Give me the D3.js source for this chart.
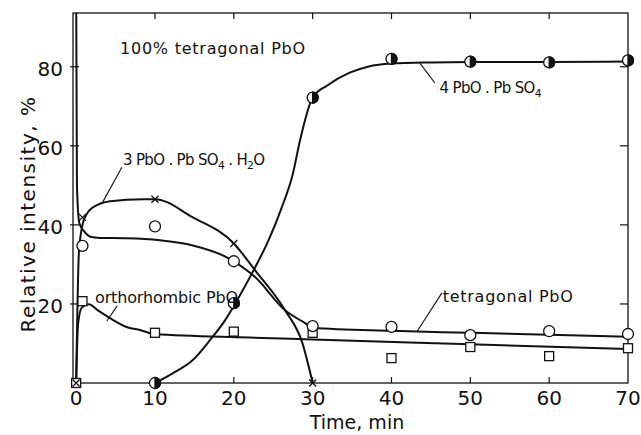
<!DOCTYPE html>
<html>
<head>
<meta charset="utf-8">
<title>Relative intensity vs time</title>
<script src="https://cdnjs.cloudflare.com/ajax/libs/d3/7.8.5/d3.min.js"></script>
<style>
body{
margin:0;
background:#fff
}
svg{
display:block
}
text{
font-family:"DejaVu Sans", sans-serif;
fill:#111
}
</style>
</head>
<body>
<svg width="641" height="435"></svg>

<script>

// marker values
var timeTet = [0.8, 10, 20, 30, 40, 50, 60, 70]
var tetragonal = [34.7, 39.6, 30.8, 14.4, 14.2, 12.1, 13.1, 12.4]
var timeBasic3 = [0, 0.8, 10, 20, 30]
var basic3 = [0, 41.9, 46.5, 35.3, 0]
var timeOrtho = [0, 0.8, 10, 20, 30, 40, 50, 60, 70]
var ortho = [0, 20.7, 12.7, 13.0, 12.7, 6.3, 9.1, 6.8, 8.8]
var timeBasic4 = [10, 20, 30, 40, 50, 60, 70]
var basic4 = [0, 20.2, 72.2, 82.0, 81.3, 81.1, 81.6]

// hand drawn curves
var tetCurveT = [0, 0.1, 0.4, 1.0, 1.8, 3, 6.4, 10.6, 14.8, 19.1, 22.7, 26.5, 29, 30, 40, 50, 60, 70]
var tetCurveV = [100, 50, 40.5, 38.4, 37.0, 36.7, 36.6, 36.1, 34.8, 31.8, 26.8, 18.4, 15.2, 14.0, 13.2, 12.7, 12.2, 11.7]
var b3CurveT = [0, 0.35, 0.85, 1.3, 2.1, 4.3, 8.5, 10, 14.8, 20, 22.7, 26.5, 28.7, 30]
var b3CurveV = [0, 33, 40.4, 42.6, 44.4, 46.0, 46.5, 46.5, 41.9, 35.3, 28.5, 18.4, 10.1, 0]
var orCurveT = [0, 0.1, 0.25, 0.7, 1.6, 2.8, 4.3, 6.5, 8.1, 10, 22, 30, 50, 70]
var orCurveV = [0, 8, 15, 19, 19.9, 18.3, 16.4, 14.1, 13.4, 12.4, 11.5, 11.0, 9.8, 8.6]
var b4CurveT = [10, 12.3, 14.8, 17, 18.9, 20.2, 22.5, 24.4, 26, 27.5, 28.4, 30, 31.8, 34.7, 37, 40, 45, 50, 60, 70]
var b4CurveV = [0, 2.5, 5.8, 10.9, 15.9, 20.2, 28.5, 36.1, 44, 53, 61.4, 72.2, 75.2, 78.5, 80, 80.8, 81.1, 81.2, 81.2, 81.3]

var xTicks = [0, 10, 20, 30, 40, 50, 60, 70]
var yTicks = [20, 40, 60, 80]

// labels and their leader lines, in data units
var labels = [
	{t: 5.57, v: 83.2, parts: [["100% tetragonal PbO"]], len: 185, size: 16},
	{t: 5.94, v: 55.1, parts: [["3 PbO . Pb SO"], ["4", 1], [" . H"], ["2", 1], ["O"]], len: 142, size: 15},
	{t: 2.39, v: 20.2, parts: [["orthorhombic PbO"]], len: 143, size: 16},
	{t: 46.1, v: 73.4, parts: [["4 PbO . Pb SO"], ["4", 1]], len: 102, size: 15},
	{t: 46.5, v: 20.5, parts: [["tetragonal PbO"]], len: 130, size: 16}
]
var leaders = [
	[[5.8, 54.6], [3.3, 45.5]],
	[[5.2, 19.5], [3.9, 15.7]],
	[[45.5, 75.9], [43.6, 80.9]],
	[[46.4, 22.8], [43.2, 12.9]]
]

var svg = d3.select('svg')
var x = d3.scaleLinear().domain([-0.4, 70]).range([73, 628])
var y = d3.scaleLinear().domain([0, 93.6]).range([383, 13])

svg.append('clipPath').attr('id', 'clip')
	.append('rect')
	.attr('x', x.range()[0]).attr('y', y.range()[1])
	.attr('width', x.range()[1] - x.range()[0])
	.attr('height', y.range()[0] - y.range()[1])

// frame
svg.append('rect')
	.attr('x', x.range()[0]).attr('y', y.range()[1])
	.attr('width', x.range()[1] - x.range()[0])
	.attr('height', y.range()[0] - y.range()[1])
	.attr('fill', 'none').attr('stroke', '#111').attr('stroke-width', 1.3)

// ticks, all pointing inward
var tickG = svg.append('g').attr('stroke', '#111').attr('stroke-width', 1.2)
tickG.selectAll('.tb').data(xTicks.slice(1, 7)).join('line')
	.attr('x1', d => x(d)).attr('x2', d => x(d))
	.attr('y1', y(0)).attr('y2', y(0) - 6)
tickG.selectAll('.tt').data(xTicks.slice(1, 7)).join('line')
	.attr('x1', d => x(d)).attr('x2', d => x(d))
	.attr('y1', y.range()[1]).attr('y2', y.range()[1] + 6)
tickG.selectAll('.tl').data(yTicks).join('line')
	.attr('x1', x.range()[0] - 3).attr('x2', x.range()[0] + 6)
	.attr('y1', d => y(d)).attr('y2', d => y(d))
tickG.selectAll('.tr').data(yTicks).join('line')
	.attr('x1', x.range()[1]).attr('x2', x.range()[1] - 8)
	.attr('y1', d => y(d)).attr('y2', d => y(d))

svg.append('g').selectAll('text').data(xTicks).join('text')
	.attr('x', d => x(d)).attr('y', 405)
	.attr('text-anchor', 'middle').attr('font-size', 20)
	.text(d => d)
svg.append('g').selectAll('text').data(yTicks).join('text')
	.attr('x', 63).attr('y', d => y(d) + 9)
	.attr('text-anchor', 'end').attr('font-size', 20)
	.text(d => d)

svg.append('text')
	.attr('x', 357).attr('y', 429)
	.attr('text-anchor', 'middle').attr('font-size', 19)
	.text('Time, min')
svg.append('text')
	.attr('transform', 'translate(35,214) rotate(-90)')
	.attr('text-anchor', 'middle').attr('font-size', 20)
	.attr('letter-spacing', 1.5)
	.text('Relative intensity, %')

// curves
var line = d3.line().x(d => x(d[0])).y(d => y(d[1])).curve(d3.curveMonotoneX)
var curves = [
	d3.zip(tetCurveT, tetCurveV),
	d3.zip(b3CurveT, b3CurveV),
	d3.zip(orCurveT, orCurveV),
	d3.zip(b4CurveT, b4CurveV)
]
svg.append('g').attr('clip-path', 'url(#clip)')
	.selectAll('path').data(curves).join('path')
	.attr('d', line)
	.attr('fill', 'none').attr('stroke', '#111').attr('stroke-width', 2)

// leader lines
svg.append('g').selectAll('line').data(leaders).join('line')
	.attr('x1', d => x(d[0][0])).attr('y1', d => y(d[0][1]))
	.attr('x2', d => x(d[1][0])).attr('y2', d => y(d[1][1]))
	.attr('stroke', '#111').attr('stroke-width', 1.1)

// markers
var mk = svg.append('g').attr('stroke', '#111').attr('stroke-width', 1.3)

mk.selectAll('.sq').data(d3.zip(timeOrtho, ortho)).join('rect')
	.attr('x', d => x(d[0]) - 4.5).attr('y', d => y(d[1]) - 4.5)
	.attr('width', 9).attr('height', 9)
	.attr('fill', '#fff')

mk.selectAll('.ci').data(d3.zip(timeTet, tetragonal)).join('circle')
	.attr('cx', d => x(d[0])).attr('cy', d => y(d[1]))
	.attr('r', 5.5).attr('fill', '#fff')

mk.selectAll('.cr').data(d3.zip(timeBasic3, basic3)).join('path')
	.attr('d', d => {
		var cx = x(d[0]), cy = y(d[1]), s = 3.5
		return 'M' + (cx - s) + ',' + (cy - s) + 'L' + (cx + s) + ',' + (cy + s) +
			'M' + (cx - s) + ',' + (cy + s) + 'L' + (cx + s) + ',' + (cy - s)
	})
	.attr('fill', 'none')

var half = mk.selectAll('.hf').data(d3.zip(timeBasic4, basic4)).join('g')
	.attr('transform', d => 'translate(' + x(d[0]) + ',' + y(d[1]) + ')')
half.append('circle').attr('r', 5.5).attr('fill', '#fff')
half.append('path')
	.attr('d', 'M0,-5.5A5.5,5.5 0 0 1 0,5.5Z')
	.attr('fill', '#111')

// labels
var lab = svg.append('g').selectAll('text').data(labels).join('text')
	.attr('x', d => x(d.t)).attr('y', d => y(d.v))
	.attr('font-size', d => d.size)
	.attr('textLength', d => d.len)
	.attr('lengthAdjust', 'spacing')
lab.each(function(d){
	var t = d3.select(this)
	var down = false
	d.parts.forEach(function(p){
		var ts = t.append('tspan').text(p[0])
		if(p[1]){
			ts.attr('font-size', d.size * 0.72).attr('dy', 4)
			down = true
		}else if(down){
			ts.attr('dy', -4)
			down = false
		}
	})
})

</script>
</body>
</html>
